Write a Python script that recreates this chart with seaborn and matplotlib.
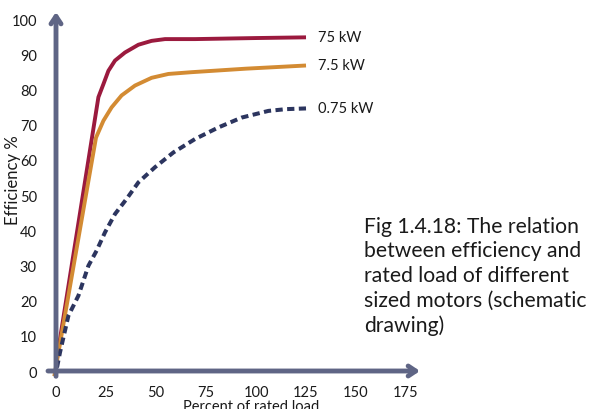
import pandas as pd
import matplotlib.pyplot as plt
import seaborn as sns

# values (percent of rated load, efficiency %)
load_75kw = [0.3, 21.2, 23.7, 26.2, 29.5, 34.5, 41.2, 47.8, 54.5, 69.5, 100, 125]
eff_75kw = [3, 77.8, 81.5, 85.3, 88.2, 90.5, 92.7, 93.8, 94.3, 94.3, 94.6, 94.8]

load_7_5kw = [-1, 18.7, 20.0, 23.7, 27.8, 32.8, 39.5, 47.8, 56.2, 67.8, 95, 125]
eff_7_5kw = [-2, 62.1, 66.3, 71.1, 74.9, 78.3, 81.1, 83.3, 84.4, 84.9, 85.9, 86.8]

load_075kw = [0.5, 2, 6.2, 11.2, 16.2, 20.3, 24.5, 29.5, 35.3, 41.2, 49.5, 58.7,
              69.5, 81.2, 92.8, 106.2, 115, 125]
eff_075kw = [1, 5.3, 15.7, 21.4, 29.9, 34.2, 39.4, 44.6, 48.9, 53.6, 57.9, 62.1,
             65.9, 69.2, 72.0, 73.9, 74.4, 74.6]

x_ticks = [0, 25, 50, 75, 100, 125, 150, 175]
y_ticks = [0, 10, 20, 30, 40, 50, 60, 70, 80, 90, 100]
motor_labels = ["75 kW", "7.5 kW", "0.75 kW"]
caption = ("Fig 1.4.18: The relation\nbetween efficiency and\nrated load of different\n"
           "sized motors (schematic\ndrawing)")

sns.set_theme(style="white")
plt.rcParams["font.family"] = ["Lato", "DejaVu Sans"]

axis_col = "#5f6585"
colors = ["#9b1a3e", "#d38b33", "#2c355f"]

fig = plt.figure(figsize=(5.89, 4.10), dpi=100)
ax = fig.add_axes([0.0815, 0.0798, 0.6316, 0.8885])

df75 = pd.DataFrame({"load": load_75kw, "eff": eff_75kw})
df7 = pd.DataFrame({"load": load_7_5kw, "eff": eff_7_5kw})
df07 = pd.DataFrame({"load": load_075kw, "eff": eff_075kw})

sns.lineplot(data=df75, x="load", y="eff", ax=ax, color=colors[0], lw=2.8,
             sort=False, estimator=None, solid_capstyle="butt", solid_joinstyle="round")
sns.lineplot(data=df7, x="load", y="eff", ax=ax, color=colors[1], lw=2.8,
             sort=False, estimator=None, solid_capstyle="butt", solid_joinstyle="round")
sns.lineplot(data=df07, x="load", y="eff", ax=ax, color=colors[2], lw=2.9,
             sort=False, estimator=None)
ax.lines[-1].set_dashes((1.8, 1.1))
ax.lines[-1].set_dash_capstyle("butt")

# labels at the end of each curve
for lab, ys in zip(motor_labels, [eff_75kw, eff_7_5kw, eff_075kw]):
    ax.text(131, ys[-1], lab, fontsize=10.5, va="center", ha="left", color="#1a1a1a")

ax.set_xlim(-4, 182)
ax.set_ylim(-1.5, 102)
for s in ax.spines.values():
    s.set_visible(False)

# axes drawn as arrows
arrow = dict(arrowstyle="->,head_length=0.45,head_width=0.3", lw=3.5, color=axis_col,
             shrinkA=0, shrinkB=0)
ax.annotate("", xy=(182, 0), xytext=(-4, 0), arrowprops=arrow, annotation_clip=False)
ax.annotate("", xy=(0, 102), xytext=(0, -1.5), arrowprops=arrow, annotation_clip=False)

ax.set_xticks(x_ticks)
ax.set_yticks(y_ticks)
ax.tick_params(axis="both", length=0, labelsize=10.5, labelcolor="#1a1a1a")
ax.tick_params(axis="y", pad=8)
ax.tick_params(axis="x", pad=6)
ax.set_xlabel("")
ax.set_ylabel("")

fig.text(13 / 589, 1 - 180 / 410, "Efficiency %", rotation=90, fontsize=12,
         ha="center", va="center", color="#1a1a1a")
fig.text(251 / 589, 1 - 407 / 410, "Percent of rated load", fontsize=10.5,
         ha="center", va="center", color="#1a1a1a")
fig.text(364 / 589, 1 - 217 / 410, caption, fontsize=15.2, ha="left", va="top",
         linespacing=1.28, color="#1a1a1a")

fig.savefig("out.png", dpi=100)
